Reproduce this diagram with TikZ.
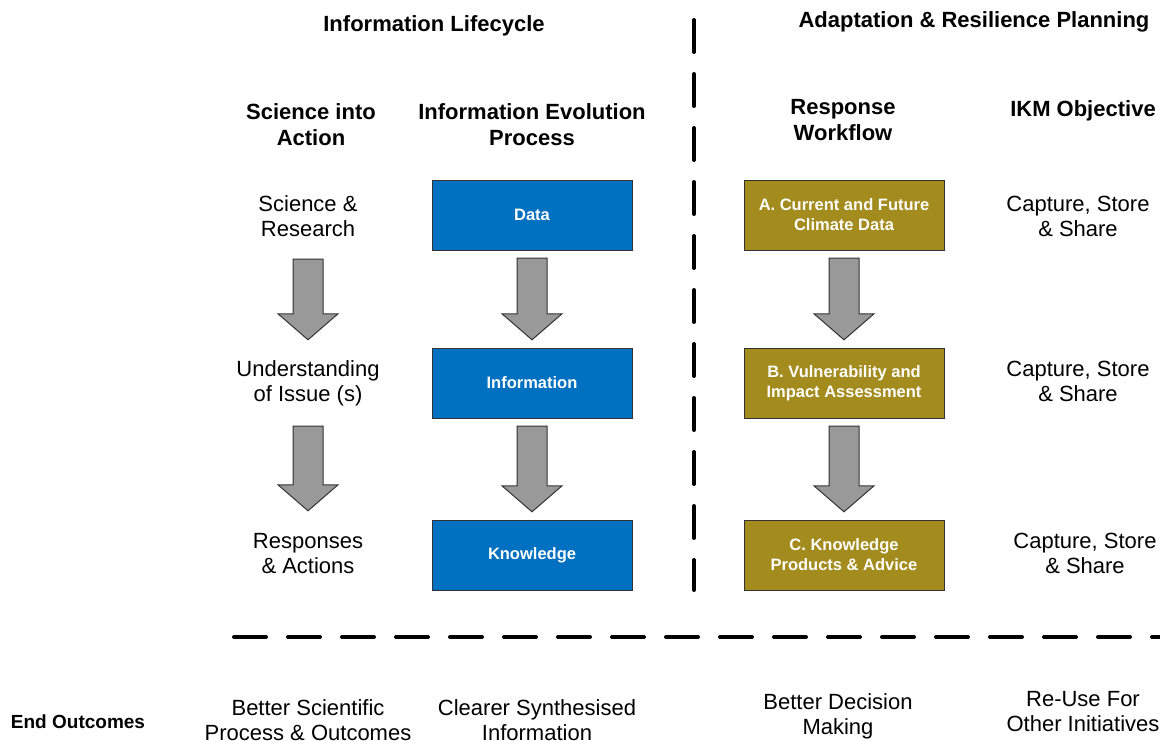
\documentclass[tikz,border=0pt]{standalone}
\usepackage{fontspec}
\setmainfont{Liberation Sans}
\usetikzlibrary{calc}
\definecolor{infoblue}{HTML}{0070C0}
\definecolor{respolive}{HTML}{A38B1D}
\tikzset{%
  heading/.style  = {font=\fontsize{22}{26}\selectfont\bfseries, align=center},%
  label/.style    = {font=\fontsize{22}{25}\selectfont, align=center,%
                     minimum width=200pt, minimum height=70pt},%
  stage/.style    = {shape=rectangle, draw=black!80, align=center, text=white,%
                     minimum width=200pt, minimum height=70pt,%
                     font=\fontsize{16.5}{20}\selectfont\bfseries},%
  infobox/.style  = {stage, fill=infoblue},%
  respbox/.style  = {stage, fill=respolive},%
  divider/.style  = {line width=4pt, line cap=round, dash pattern=on 32pt off 22pt},%
  flow/.style     = {draw=black!80, fill=gray!80, line width=1pt}%
}
\newcommand{\flowdown}[2]{%
  \draw[flow] let \p1=($(#1.south)+(0pt,-8pt)$), \p2=($(#2.north)+(0pt,8pt)$) in
    (\x1-15pt,\y1) -- (\x1+15pt,\y1) -- (\x1+15pt,\y2+26pt) -- (\x1+30pt,\y2+26pt)
    -- (\x1,\y2) -- (\x1-30pt,\y2+26pt) -- (\x1-15pt,\y2+26pt) -- cycle;}

\begin{document}
\begin{tikzpicture}[x=1pt,y=-1pt]
  \useasboundingbox (0,0) rectangle (1160,741);
  % titles and column heads
  \node[heading] (lifecycle) at (434,26) {Information Lifecycle};
  \node[heading] (planning) at (974,22) {Adaptation \& Resilience Planning};
  \node[heading] (scihead) at (311,125) {Science into\\Action};
  \node[heading] (evohead) at (532,125) {Information Evolution\\Process};
  \node[heading] (wfhead) at (843,120) {Response\\Workflow};
  \node[heading] (ikmhead) at (1083,111) {IKM Objective};

  \node[label] (science) at (308,216) {Science \&\\Research};
  \node[label] (issue) at (308,383) {Understanding\\of Issue (s)};
  \node[label] (actions) at (308,554) {Responses\\\& Actions};

  \node[infobox] (data) at (532,215) {Data};
  \node[infobox] (info) at (532,383) {Information};
  \node[infobox] (know) at (532,555) {Knowledge};

  \node[respbox] (climate) at (844,215) {A. Current and Future\\Climate Data};
  \node[respbox] (vuln) at (844,383) {B. Vulnerability and\\Impact Assessment};
  \node[respbox] (advice) at (844,555) {C. Knowledge\\Products \& Advice};

  \node[label] (ikma) at (1078,216) {Capture, Store\\\& Share};
  \node[label] (ikmb) at (1078,381) {Capture, Store\\\& Share};
  \node[label] (ikmc) at (1085,553) {Capture, Store\\\& Share};

  \flowdown{science}{issue}
  \flowdown{issue}{actions}
  \flowdown{data}{info}
  \flowdown{info}{know}
  \flowdown{climate}{vuln}
  \flowdown{vuln}{advice}

  \coordinate (vtop) at (694,20);
  \coordinate (vbot) at (694,590);
  \coordinate (hleft) at (234,637);
  \coordinate (hright) at (1180,637);
  \draw[divider] (vtop) -- (vbot);
  \draw[divider] (hleft) -- (hright);

  % end outcomes
  \node[heading, font=\fontsize{19}{22}\selectfont\bfseries] (outcomes) at (78,722) {End Outcomes};
  \node[label, minimum height=0pt] (outsci) at (308,720) {Better Scientific\\Process \& Outcomes};
  \node[label, minimum height=0pt] (outinfo) at (537,720) {Clearer Synthesised\\Information};
  \node[label, minimum height=0pt] (outdec) at (838,716) {Better Decision\\Making};
  \node[label, minimum height=0pt] (outreuse) at (1083,712) {Re-Use For\\Other Initiatives};
\end{tikzpicture}
\end{document}
